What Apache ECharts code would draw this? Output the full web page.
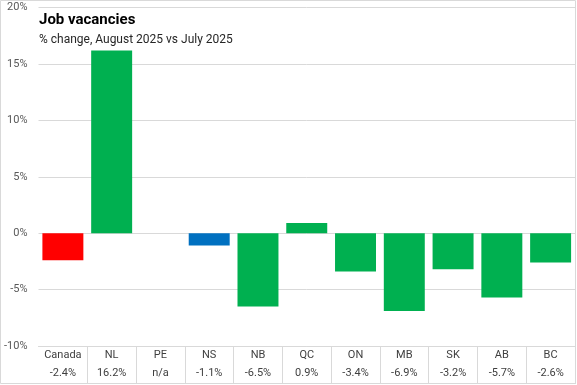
<!DOCTYPE html>
<html><head><meta charset="utf-8">
<script src="https://cdn.jsdelivr.net/npm/echarts@6/dist/echarts.min.js"></script>
<style>html,body{margin:0;padding:0;background:#fff}#c{width:577px;height:385px}</style>
</head><body><div id="c"></div>
<script>
var categories = ['Canada','NL','PE','NS','NB','QC','ON','MB','SK','AB','BC'];
var values = [-2.4, 16.2, null, -1.1, -6.5, 0.9, -3.4, -6.9, -3.2, -5.7, -2.6];
var barColors = ['#FF0000','#00B050','#00B050','#0070C0','#00B050','#00B050','#00B050','#00B050','#00B050','#00B050','#00B050'];
var yTicks = {min: -10, max: 20, interval: 5};

var font = 'Roboto, "Liberation Sans", sans-serif';
var chart = echarts.init(document.getElementById('c'), null, {renderer: 'canvas'});
chart.setOption({
  animation: false,
  title: {
    text: 'Job vacancies',
    subtext: '% change, August 2025 vs July 2025',
    left: 34, top: 8,
    itemGap: 6,
    textStyle: {fontFamily: font, fontSize: 15, fontWeight: 'bold', color: '#000'},
    subtextStyle: {fontFamily: font, fontSize: 12, color: '#262626'}
  },
  grid: {left: 38.5, right: 2, top: 7.5, bottom: 39, containLabel: false},
  xAxis: {
    type: 'category',
    data: categories,
    axisLine: {show: true, onZero: false, lineStyle: {color: '#D9D9D9', width: 1}},
    axisTick: {show: true, length: 38, lineStyle: {color: '#D9D9D9'},
      interval: function (i) { return i > 0; }},
    axisLabel: {
      interval: 0, margin: 0,
      formatter: function (v, i) {
        var val = values[i];
        var t = val === null ? 'n/a' : val.toFixed(1) + '%';
        return '{a|' + v + '}\n{b|' + t + '}';
      },
      rich: {
        a: {fontFamily: font, fontSize: 11, color: '#404040', lineHeight: 18},
        b: {fontFamily: font, fontSize: 11, color: '#404040', lineHeight: 18}
      }
    }
  },
  yAxis: {
    type: 'value',
    min: yTicks.min, max: yTicks.max, interval: yTicks.interval,
    axisLine: {show: false}, axisTick: {show: false},
    splitLine: {lineStyle: {color: '#D9D9D9', width: 1}},
    axisLabel: {fontFamily: font, fontSize: 11, color: '#595959', margin: 11,
      showMaxLabel: true, showMinLabel: true,
      formatter: function (v) { return v + '%'; }}
  },
  series: [{
    type: 'bar',
    barCategoryGap: '16%',
    data: values.map(function (v, i) {
      return {value: v, itemStyle: {color: barColors[i]}};
    })
  }],
  graphic: [{
    type: 'rect', silent: true, z: 100,
    shape: {x: 0.5, y: 0.5, width: 575, height: 383},
    style: {fill: 'none', stroke: '#D9D9D9', lineWidth: 1}
  }]
});
</script></body></html>
